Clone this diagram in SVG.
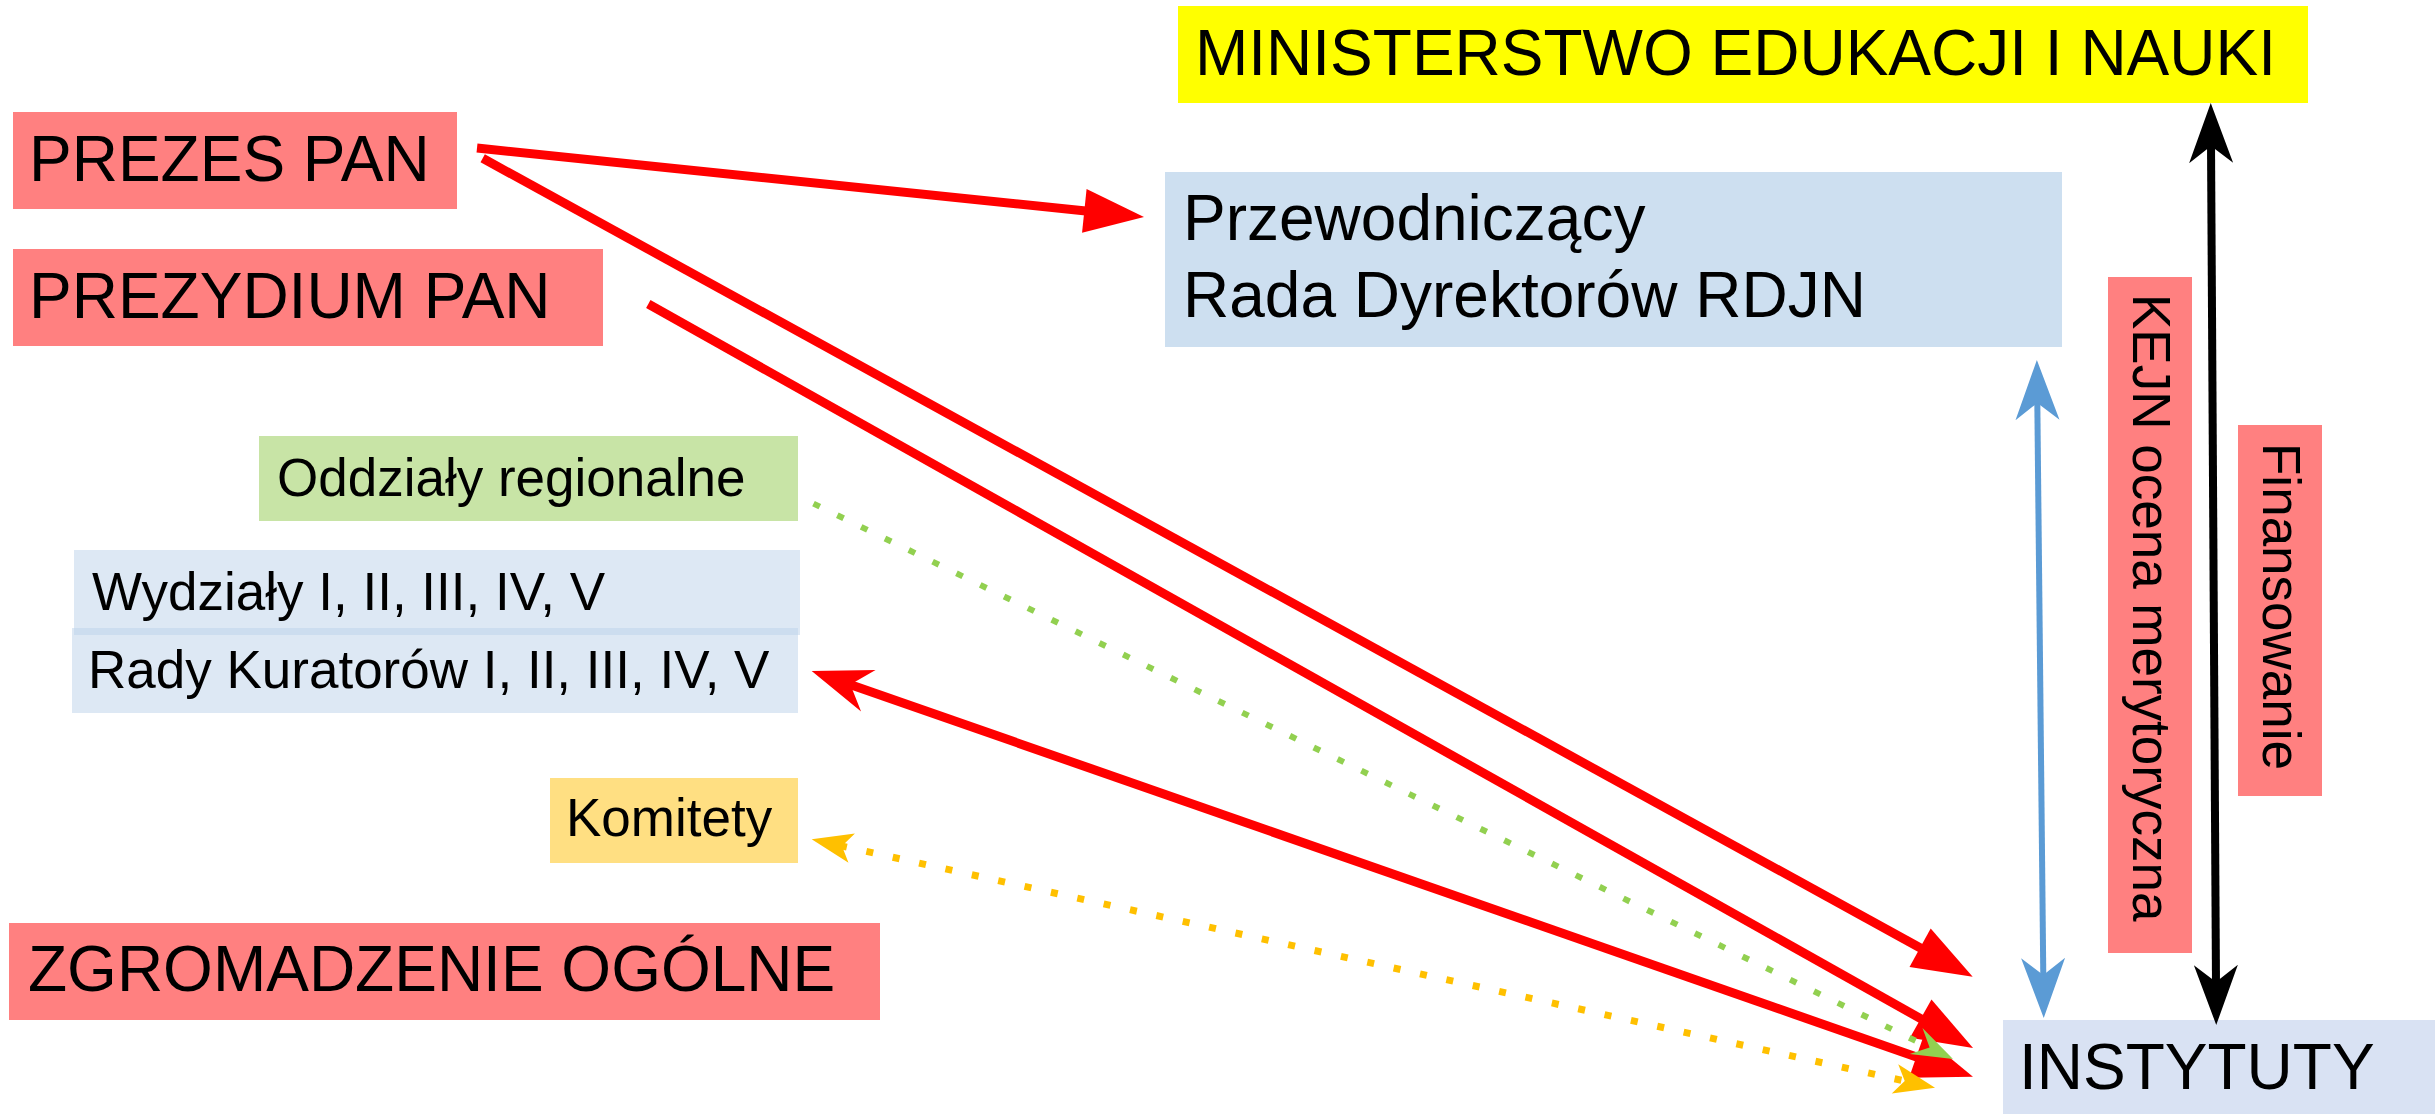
<svg xmlns="http://www.w3.org/2000/svg" width="2435" height="1114" viewBox="0 0 2435 1114">
<style>
text{font-family:"Liberation Sans",Arial,sans-serif;fill:#000}
.big{font-size:64px}
.mid{font-size:53px}
.rot{font-size:53px}
.pink{fill:#FF8080}
.conn{fill:none}
.red{stroke:#FF0000;stroke-width:9}
.blk{stroke:#000;stroke-width:8}
.blu{stroke:#5B9BD5;stroke-width:6}
.grn{stroke:#92D050;stroke-width:6;stroke-dasharray:7 19.5}
.yel{stroke:#FFC000;stroke-width:7;stroke-dasharray:7 20}
</style>
<defs>
<marker id="triR" markerUnits="userSpaceOnUse" markerWidth="60" markerHeight="44" viewBox="0 -22 60 44" refX="4" refY="0" orient="auto-start-reverse" overflow="visible"><path d="M0,-22 L60,0 L0,22 Z" fill="#FF0000"/></marker>
<marker id="stR" markerUnits="userSpaceOnUse" markerWidth="60" markerHeight="44" viewBox="0 -22 60 44" refX="21" refY="0" orient="auto-start-reverse" overflow="visible"><path d="M60,0 L0,-22 L19,0 L0,22 Z" fill="#FF0000"/></marker>
<marker id="stK" markerUnits="userSpaceOnUse" markerWidth="60" markerHeight="44" viewBox="0 -22 60 44" refX="19" refY="0" orient="auto-start-reverse" overflow="visible"><path d="M60,0 L0,-22 L17,0 L0,22 Z" fill="#000"/></marker>
<marker id="stB" markerUnits="userSpaceOnUse" markerWidth="60" markerHeight="44" viewBox="0 -22 60 44" refX="19" refY="0" orient="auto-start-reverse" overflow="visible"><path d="M60,0 L0,-22 L17,0 L0,22 Z" fill="#5B9BD5"/></marker>
<marker id="stG" markerUnits="userSpaceOnUse" markerWidth="41" markerHeight="29" viewBox="0 -14.5 41 29" refX="17" refY="0" orient="auto-start-reverse" overflow="visible"><path d="M41,0 L0,-14.5 L15,0 L0,14.5 Z" fill="#92D050"/></marker>
<marker id="stY" markerUnits="userSpaceOnUse" markerWidth="41" markerHeight="30" viewBox="0 -15 41 30" refX="12" refY="0" orient="auto-start-reverse" overflow="visible"><path d="M41,0 L0,-15 L10,0 L0,15 Z" fill="#FFC000"/></marker>
</defs>

<g id="ministerstwo"><rect x="1178" y="6" width="1130" height="97" fill="#FFFF00"/><text class="big" x="1195" y="75">MINISTERSTWO EDUKACJI I NAUKI</text></g>
<g id="prezes"><rect class="pink" x="13" y="112" width="444" height="97"/><text class="big" x="29" y="181">PREZES PAN</text></g>
<g id="prezydium"><rect class="pink" x="13" y="249" width="590" height="97"/><text class="big" x="29" y="318">PREZYDIUM PAN</text></g>
<g id="przewodniczacy"><rect x="1165" y="172" width="897" height="175" fill="#CDDFF0"/><text class="big" x="1183" y="240">Przewodniczący</text><text class="big" x="1183" y="317">Rada Dyrektorów RDJN</text></g>
<g id="oddzialy"><rect x="259" y="436" width="539" height="85" fill="#C8E4A6"/><text class="mid" x="277" y="496">Oddziały regionalne</text></g>
<g id="wydzialy"><rect x="74" y="550" width="726" height="85" fill="#BBD1E9" fill-opacity="0.5"/><text class="mid" x="92" y="610">Wydziały I, II, III, IV, V</text></g>
<g id="rady"><rect x="72" y="628" width="726" height="85" fill="#BBD1E9" fill-opacity="0.5"/><text class="mid" x="88" y="688">Rady Kuratorów I, II, III, IV, V</text></g>
<g id="komitety"><rect x="550" y="778" width="248" height="85" fill="#FFDF82"/><text class="mid" x="566" y="836">Komitety</text></g>
<g id="zgromadzenie"><rect class="pink" x="9" y="923" width="871" height="97"/><text class="big" x="28" y="991">ZGROMADZENIE OGÓLNE</text></g>
<g id="kejn"><rect class="pink" x="2108" y="277" width="84" height="676"/><text class="rot" transform="translate(2133,294) rotate(90)">KEJN ocena merytoryczna</text></g>
<g id="finansowanie"><rect class="pink" x="2238" y="425" width="84" height="371"/><text class="rot" transform="translate(2263,443) rotate(90)">Finansowanie</text></g>
<g id="instytuty"><rect x="2003" y="1020" width="432" height="94" fill="#D9E2F3"/><text class="big" x="2019" y="1089">INSTYTUTY</text></g>

<g id="connectors">
<path class="conn red" d="M477,148 L1088.3,211.2" marker-end="url(#triR)"/>
<path class="conn red" d="M482.7,158.3 L1923.6,949.7" marker-end="url(#triR)"/>
<path class="conn red" d="M648.3,304 L1924.2,1020.6" marker-end="url(#triR)"/>
<path class="conn red" d="M848.5,683.9 L1920.1,1058.2" marker-start="url(#stR)" marker-end="url(#triR)"/>
<path class="conn grn" d="M813.5,503.6 L1931.4,1048.5" marker-end="url(#stG)"/>
<path class="conn yel" d="M840,845.6 L1906.7,1081.4" marker-start="url(#stY)" marker-end="url(#stY)"/>
<path class="conn blu" d="M2037.3,401 L2043.3,977" marker-start="url(#stB)" marker-end="url(#stB)"/>
<path class="conn blk" d="M2211,144 L2216,984" marker-start="url(#stK)" marker-end="url(#stK)"/>
</g>
</svg>
